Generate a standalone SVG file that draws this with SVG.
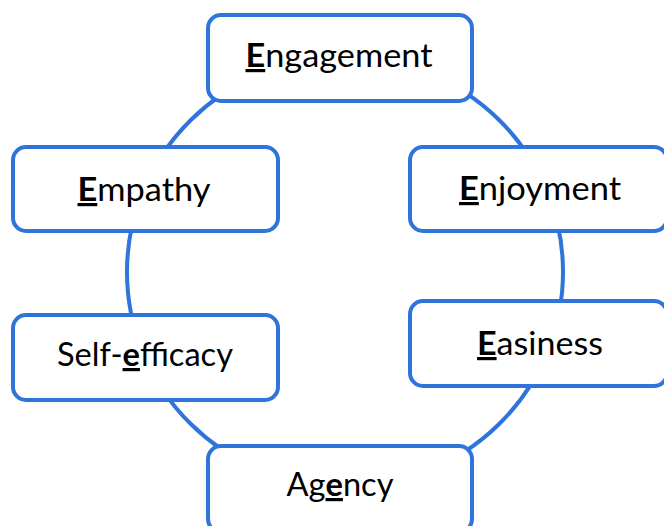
<svg xmlns="http://www.w3.org/2000/svg" width="664" height="526" viewBox="0 0 664 526">
<style>
.box{fill:#fff;stroke:#2F74DB;stroke-width:4}
.ring{fill:none;stroke:#2F74DB;stroke-width:4}
text{font-family:Lato,"Liberation Sans",sans-serif;font-size:32px;fill:#000;text-anchor:middle}
.k{font-weight:bold;text-decoration:underline}
</style>
<rect width="664" height="526" fill="#fff"/>
<g id="connectors">
<ellipse class="ring" cx="345" cy="272" rx="218" ry="215"/>
</g>
<g id="engagement"><rect class="box" x="208" y="15" width="264" height="86" rx="13"/><text x="339" y="67" textLength="187" lengthAdjust="spacingAndGlyphs"><tspan class="k">E</tspan>ngagement</text></g>
<g id="empathy"><rect class="box" x="13" y="147" width="265" height="84" rx="13"/><text x="144" y="201" textLength="133" lengthAdjust="spacingAndGlyphs"><tspan class="k">E</tspan>mpathy</text></g>
<g id="enjoyment"><rect class="box" x="410" y="147" width="257" height="84" rx="13"/><text x="540" y="200" textLength="162" lengthAdjust="spacingAndGlyphs"><tspan class="k">E</tspan>njoyment</text></g>
<g id="self-efficacy"><rect class="box" x="13" y="315" width="265" height="85" rx="13"/><text x="145" y="366" textLength="176" lengthAdjust="spacingAndGlyphs">Self-<tspan class="k">e</tspan>fficacy</text></g>
<g id="easiness"><rect class="box" x="410" y="301" width="257" height="85" rx="13"/><text x="540" y="355" textLength="126" lengthAdjust="spacingAndGlyphs"><tspan class="k">E</tspan>asiness</text></g>
<g id="agency"><rect class="box" x="208" y="446" width="264" height="86" rx="13"/><text x="340" y="496" textLength="107" lengthAdjust="spacingAndGlyphs">Ag<tspan class="k">e</tspan>ncy</text></g>
</svg>
